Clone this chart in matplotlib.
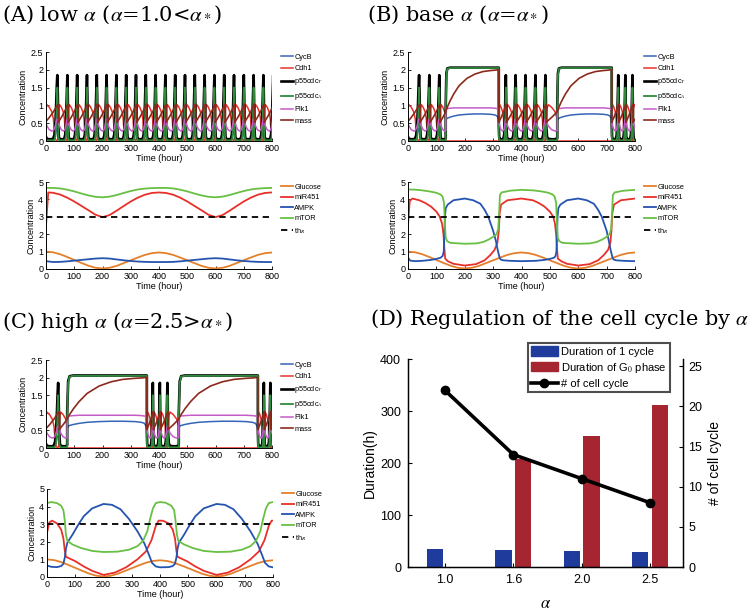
import numpy as np
import matplotlib
matplotlib.use("Agg")
import matplotlib.pyplot as plt
from matplotlib.lines import Line2D
from matplotlib.patches import Patch

plt.rcParams['font.family'] = ['Liberation Sans', 'DejaVu Sans']
plt.rcParams['mathtext.fontset'] = 'stix'

# ---------------- one cell-cycle template (phase 0 = division) ----------------
cc_phase = [0.0, 0.05, 0.12, 0.3, 0.5, 0.62, 0.7, 0.78, 0.84, 0.88, 0.92, 0.96, 1.0]
cc_cycb  = [0.12, 0.05, 0.04, 0.04, 0.05, 0.07, 0.10, 0.18, 0.28, 0.33, 0.35, 0.30, 0.12]
cc_cdh1  = [0.45, 0.92, 1.02, 0.95, 0.82, 0.62, 0.25, 0.04, 0.02, 0.02, 0.02, 0.05, 0.45]
cc_p55T  = [0.45, 0.12, 0.06, 0.05, 0.05, 0.08, 0.18, 0.55, 1.10, 1.55, 1.85, 1.30, 0.45]
cc_p55A  = [0.15, 0.03, 0.02, 0.02, 0.02, 0.02, 0.03, 0.15, 0.60, 1.10, 1.50, 0.90, 0.15]
cc_plk1  = [0.60, 0.50, 0.42, 0.32, 0.28, 0.30, 0.35, 0.45, 0.55, 0.60, 0.62, 0.62, 0.60]
cc_mass  = [0.52, 0.55, 0.58, 0.66, 0.76, 0.82, 0.87, 0.92, 0.96, 0.98, 1.00, 1.02, 1.04]

# ---------------- G0 arrest template (fraction of arrest duration) ----------------
g0_frac = [0.0, 0.012, 0.03, 0.08, 0.15, 0.25, 0.4, 0.55, 0.7, 0.85, 0.93, 0.97, 0.99, 1.0]
g0_cycb = [0.55, 0.62, 0.64, 0.67, 0.70, 0.73, 0.75, 0.76, 0.76, 0.75, 0.73, 0.70, 0.62, 0.50]
g0_cdh1 = [0.02, 0.0, 0.0, 0.0, 0.0, 0.0, 0.0, 0.0, 0.0, 0.0, 0.0, 0.0, 0.0, 0.0]
g0_p55T = [1.00, 1.90, 2.04, 2.06, 2.06, 2.06, 2.06, 2.06, 2.06, 2.06, 2.06, 2.06, 2.06, 2.06]
g0_p55A = [0.90, 1.85, 2.03, 2.05, 2.05, 2.05, 2.05, 2.05, 2.05, 2.05, 2.05, 2.05, 2.05, 2.05]
g0_plk1 = [0.85, 0.90, 0.91, 0.92, 0.93, 0.93, 0.93, 0.93, 0.93, 0.93, 0.92, 0.91, 0.89, 0.85]
g0_mass = [0.85, 0.88, 0.95, 1.12, 1.32, 1.55, 1.76, 1.88, 1.95, 1.98, 1.99, 2.00, 2.00, 2.00]

# cycles: (start, end, start phase, end phase); arrests: (start, end)
A_cycles = [(0, 43.7, 0.05, 1.0), (43.7, 78.4, 0, 1), (78.4, 113.1, 0, 1), (113.1, 147.8, 0, 1),
            (147.8, 182.5, 0, 1), (182.5, 217.2, 0, 1), (217.2, 251.9, 0, 1), (251.9, 286.6, 0, 1),
            (286.6, 321.3, 0, 1), (321.3, 356.0, 0, 1), (356.0, 390.7, 0, 1), (390.7, 425.4, 0, 1),
            (425.4, 460.1, 0, 1), (460.1, 494.8, 0, 1), (494.8, 529.5, 0, 1), (529.5, 564.2, 0, 1),
            (564.2, 598.9, 0, 1), (598.9, 633.6, 0, 1), (633.6, 668.3, 0, 1), (668.3, 703.0, 0, 1),
            (703.0, 737.7, 0, 1), (737.7, 772.4, 0, 1), (772.4, 807.1, 0, 1)]
A_arrests = []
B_cycles = [(0, 42.7, 0.05, 1.0), (42.7, 78, 0, 1), (78, 113, 0, 1), (113, 133, 0, 0.62),
            (320, 347, 0, 1), (347, 382, 0, 1), (382, 417, 0, 1), (417, 452, 0, 1), (452, 487, 0, 1),
            (487, 526, 0, 0.62),
            (718, 743, 0, 1), (743, 768, 0, 1), (768, 793, 0, 1), (793, 830, 0, 1)]
B_arrests = [(133, 320), (526, 718)]
C_cycles = [(0, 47, 0.05, 1.0), (47, 75, 0, 0.62),
            (357, 380, 0, 1), (380, 405, 0, 1), (405, 432, 0, 1), (432, 470, 0, 0.62),
            (750, 773, 0, 1), (773, 796, 0, 1), (796, 830, 0, 1)]
C_arrests = [(75, 357), (470, 750)]

# ---------------- metabolic module ----------------
glc_t = [0, 25, 50, 75, 100, 125, 150, 175, 200, 225, 250, 275, 300, 325, 350, 375, 400,
         425, 450, 475, 500, 525, 550, 575, 600, 625, 650, 675, 700, 725, 750, 775, 800]
glc_v = [1.00, 0.96, 0.85, 0.69, 0.52, 0.35, 0.19, 0.07, 0.03, 0.07, 0.18, 0.34, 0.50, 0.66, 0.81, 0.91, 0.95,
         0.91, 0.81, 0.66, 0.50, 0.34, 0.18, 0.07, 0.03, 0.07, 0.18, 0.34, 0.50, 0.66, 0.81, 0.91, 0.95]

A_mtor_t = glc_t
A_mtor_v = [4.66, 4.66, 4.63, 4.56, 4.46, 4.34, 4.23, 4.15, 4.12, 4.16, 4.25, 4.37, 4.48, 4.57, 4.62, 4.65, 4.66,
            4.66, 4.63, 4.56, 4.46, 4.34, 4.23, 4.15, 4.12, 4.16, 4.25, 4.37, 4.48, 4.57, 4.62, 4.65, 4.66]
A_mir_t = [0, 8, 25, 50, 75, 100, 125, 150, 175, 200, 225, 250, 275, 300, 325, 350, 375, 400,
           425, 450, 475, 500, 525, 550, 575, 600, 625, 650, 675, 700, 725, 750, 775, 800]
A_mir_v = [2.5, 4.4, 4.38, 4.28, 4.10, 3.88, 3.63, 3.38, 3.12, 2.98, 3.10, 3.35, 3.62, 3.88, 4.10, 4.27, 4.37, 4.40,
           4.37, 4.27, 4.10, 3.88, 3.63, 3.38, 3.12, 2.98, 3.10, 3.35, 3.62, 3.88, 4.10, 4.27, 4.37, 4.40]
A_ampk_t = glc_t
A_ampk_v = [0.45, 0.40, 0.41, 0.44, 0.48, 0.52, 0.56, 0.60, 0.62, 0.60, 0.55, 0.50, 0.46, 0.43, 0.41, 0.40, 0.40,
            0.40, 0.41, 0.44, 0.48, 0.52, 0.56, 0.60, 0.62, 0.60, 0.55, 0.50, 0.46, 0.43, 0.41, 0.40, 0.40]

B_mtor_t = [0, 25, 50, 75, 100, 115, 122, 127, 130, 133, 138, 150, 200, 240, 265, 285, 300, 312, 318, 321, 324,
            330, 360, 400, 440, 470, 495, 510, 517, 522, 525, 528, 533, 545, 600, 640, 665, 685, 700, 710,
            716, 719, 722, 728, 760, 800]
B_mtor_v = [4.57, 4.56, 4.52, 4.46, 4.38, 4.28, 4.15, 3.8, 2.6, 1.8, 1.6, 1.5, 1.45, 1.47, 1.55, 1.7, 1.85, 2.0,
            2.3, 3.2, 4.25, 4.4, 4.5, 4.55, 4.52, 4.46, 4.38, 4.28, 4.15, 3.8, 2.6, 1.8, 1.6, 1.5, 1.45, 1.47,
            1.55, 1.7, 1.85, 2.0, 2.3, 3.2, 4.25, 4.4, 4.5, 4.55]
B_mir_t = [0, 6, 15, 40, 60, 80, 100, 112, 120, 125, 128, 131, 140, 160, 200, 240, 270, 290, 305, 315, 320,
           323, 328, 350, 400, 440, 460, 480, 500, 512, 518, 522, 525, 528, 540, 560, 600, 640, 670, 690,
           705, 713, 717, 720, 726, 750, 800]
B_mir_v = [2.5, 3.9, 4.05, 3.95, 3.8, 3.6, 3.3, 3.0, 2.6, 2.0, 1.2, 0.6, 0.45, 0.3, 0.2, 0.28, 0.5, 0.8, 1.1,
           1.5, 2.2, 3.2, 3.7, 3.95, 4.05, 3.95, 3.8, 3.6, 3.3, 3.0, 2.6, 2.0, 1.2, 0.6, 0.45, 0.3, 0.2, 0.28,
           0.5, 0.8, 1.1, 1.5, 2.2, 3.2, 3.7, 3.95, 4.05]
B_ampk_t = [0, 8, 25, 50, 80, 100, 115, 122, 126, 128, 130, 133, 140, 160, 200, 230, 255, 270, 283, 300, 310,
            316, 322, 326, 335, 360, 400, 450, 480, 500, 515, 520, 523, 525, 527, 530, 537, 560, 600, 630,
            655, 670, 683, 700, 708, 714, 720, 724, 733, 760, 800]
B_ampk_v = [0.65, 0.48, 0.45, 0.47, 0.52, 0.58, 0.65, 0.75, 1.0, 1.8, 3.0, 3.5, 3.7, 3.95, 4.05, 3.95, 3.75,
            3.4, 3.0, 2.2, 1.6, 1.1, 0.7, 0.55, 0.5, 0.47, 0.45, 0.47, 0.52, 0.58, 0.65, 0.75, 1.0, 1.8, 3.0,
            3.5, 3.7, 3.95, 4.05, 3.95, 3.75, 3.4, 3.0, 2.2, 1.6, 1.1, 0.7, 0.55, 0.5, 0.47, 0.45]

C_mtor_t = [0, 15, 35, 50, 58, 63, 67, 72, 90, 120, 160, 200, 250, 290, 320, 340, 355, 365, 375, 385, 400,
            420, 440, 450, 455, 460, 465, 485, 515, 555, 600, 650, 690, 720, 740, 755, 765, 775, 785, 800]
C_mtor_v = [4.2, 4.26, 4.2, 4.05, 3.8, 3.2, 2.4, 2.05, 1.85, 1.65, 1.48, 1.42, 1.44, 1.55, 1.75, 2.05, 2.6,
            3.3, 3.9, 4.2, 4.26, 4.22, 4.05, 3.8, 3.2, 2.4, 2.05, 1.85, 1.65, 1.48, 1.42, 1.44, 1.55, 1.75,
            2.05, 2.6, 3.3, 3.9, 4.2, 4.26]
C_mir_t = [0, 8, 18, 35, 50, 58, 63, 67, 80, 100, 130, 160, 200, 240, 280, 320, 350, 370, 385, 395, 410,
           430, 445, 453, 458, 462, 475, 495, 525, 555, 600, 640, 680, 720, 750, 770, 785, 795, 800]
C_mir_v = [2.5, 3.1, 3.2, 3.05, 2.7, 2.2, 1.5, 1.15, 1.05, 0.9, 0.6, 0.35, 0.12, 0.25, 0.55, 1.0, 1.45, 2.1,
           2.9, 3.2, 3.2, 3.05, 2.7, 2.2, 1.5, 1.15, 1.05, 0.9, 0.6, 0.35, 0.12, 0.25, 0.55, 1.0, 1.45, 2.1,
           2.9, 3.2, 3.2]
C_ampk_t = [0, 15, 35, 50, 58, 63, 67, 72, 90, 110, 130, 160, 200, 230, 260, 290, 320, 345, 360, 372, 385,
            400, 430, 445, 453, 458, 462, 467, 485, 505, 525, 555, 600, 630, 660, 690, 720, 745, 760, 772,
            785, 800]
C_ampk_v = [0.65, 0.58, 0.56, 0.62, 0.75, 1.1, 1.6, 1.95, 2.4, 2.95, 3.45, 3.9, 4.15, 4.1, 3.85, 3.3, 2.6,
            1.9, 1.3, 0.8, 0.6, 0.55, 0.56, 0.62, 0.75, 1.1, 1.6, 1.95, 2.4, 2.95, 3.45, 3.9, 4.15, 4.1, 3.85,
            3.3, 2.6, 1.9, 1.3, 0.8, 0.6, 0.55]
th_R = 3.0

# ---------------- panel D ----------------
alpha_labels = ['1.0', '1.6', '2.0', '2.5']
dur_cycle = [35, 32, 31, 29]
dur_g0 = [0, 208, 251, 312]
n_cycles = [22, 14, 11, 8]

# ---------------- styles ----------------
cc_names = ['CycB', 'Cdh1', r'p55cdc$_T$', r'p55cdc$_A$', 'Plk1', 'mass']
cc_colors = ['#3565b8', '#e8302a', '#000000', '#2f8a3c', '#c55bc8', '#8b2a1c']
cc_lws = [1.1, 1.1, 1.9, 1.3, 1.1, 1.2]
cc_tmpl = [cc_cycb, cc_cdh1, cc_p55T, cc_p55A, cc_plk1, cc_mass]
g0_tmpl = [g0_cycb, g0_cdh1, g0_p55T, g0_p55A, g0_plk1, g0_mass]

met_names = ['Glucose', 'miR451', 'AMPK', 'mTOR']
met_colors = ['#e57f2a', '#e8302a', '#2553b0', '#68c043']


def build(cycles, arrests, cvals, gvals):
    segs = [(c[0], 'c', c) for c in cycles] + [(g[0], 'g', g) for g in arrests]
    segs.sort(key=lambda s: s[0])
    ts, vs = [], []
    for _, kind, s in segs:
        if kind == 'c':
            t0, t1, p0, p1 = s
            for p, v in zip(cc_phase, cvals):
                if p0 - 1e-9 <= p <= p1 + 1e-9:
                    ts.append(t0 + (p - p0) / (p1 - p0) * (t1 - t0))
                    vs.append(v)
        else:
            t0, t1 = s
            for f, v in zip(g0_frac, gvals):
                ts.append(t0 + f * (t1 - t0))
                vs.append(v)
    return ts, vs


W, H = 750, 611
fig = plt.figure(figsize=(7.5, 6.11), dpi=100)


def pax(l, t, r, b):
    return fig.add_axes([l / W, 1 - b / H, (r - l) / W, (b - t) / H])


def style_small(ax, ymax, yticks, ylabels):
    ax.set_xlim(0, 800)
    ax.set_ylim(0, ymax)
    ax.set_xticks(range(0, 801, 100))
    ax.set_yticks(yticks)
    ax.set_yticklabels(ylabels)
    ax.tick_params(direction='in', length=2.5, width=0.6, labelsize=6.5, pad=2)
    for s in ['top', 'right']:
        ax.spines[s].set_visible(False)
    for s in ['left', 'bottom']:
        ax.spines[s].set_linewidth(0.7)
    ax.set_xlabel('Time (hour)', fontsize=6.5, labelpad=1)
    ax.set_ylabel('Concentration', fontsize=6.5, labelpad=2)


def cycle_panel(ax, cycles, arrests):
    for tmpl, gt, name, col, lw in zip(cc_tmpl, g0_tmpl, cc_names, cc_colors, cc_lws):
        t, v = build(cycles, arrests, tmpl, gt)
        ax.plot(t, v, color=col, lw=lw, label=name)
    style_small(ax, 2.5, [0, 0.5, 1, 1.5, 2, 2.5], ['0', '0.5', '1', '1.5', '2', '2.5'])
    ax.legend(loc='upper left', bbox_to_anchor=(1.04, 0.98), frameon=False, fontsize=5.3,
              handlelength=1.6, handletextpad=0.2, labelspacing=0.55, borderpad=0, borderaxespad=0)


def met_panel(ax, series):
    for (t, v), name, col in zip(series, met_names, met_colors):
        ax.plot(t, v, color=col, lw=1.3, label=name)
    ax.axhline(th_R, color='k', lw=1.3, ls=(0, (3.5, 2.5)), label=r'th$_R$')
    style_small(ax, 5, [0, 1, 2, 3, 4, 5], ['0', '1', '2', '3', '4', '5'])
    ax.legend(loc='upper left', bbox_to_anchor=(1.04, 0.98), frameon=False, fontsize=5.3,
              handlelength=1.6, handletextpad=0.2, labelspacing=0.45, borderpad=0, borderaxespad=0)


axA1 = pax(46, 52, 272, 141)
axA2 = pax(46, 182, 272, 269)
axB1 = pax(408, 52, 635, 141)
axB2 = pax(408, 182, 635, 269)
axC1 = pax(46, 360, 272, 448)
axC2 = pax(47, 489, 273, 577)

cycle_panel(axA1, A_cycles, A_arrests)
cycle_panel(axB1, B_cycles, B_arrests)
cycle_panel(axC1, C_cycles, C_arrests)
met_panel(axA2, [(glc_t, glc_v), (A_mir_t, A_mir_v), (A_ampk_t, A_ampk_v), (A_mtor_t, A_mtor_v)])
met_panel(axB2, [(glc_t, glc_v), (B_mir_t, B_mir_v), (B_ampk_t, B_ampk_v), (B_mtor_t, B_mtor_v)])
met_panel(axC2, [(glc_t, glc_v), (C_mir_t, C_mir_v), (C_ampk_t, C_ampk_v), (C_mtor_t, C_mtor_v)])

# ---------------- panel D ----------------
axD = pax(408, 359, 683, 567)
x = np.arange(1, len(alpha_labels) + 1)
axD.bar(x - 0.145, dur_cycle, width=0.24, color='#1f3c9c')
axD.bar(x + 0.145, dur_g0, width=0.24, color='#a52530')
axD.set_xlim(0.46, 4.48)
axD.set_ylim(0, 400)
axD.set_xticks(x)
axD.set_xticklabels(alpha_labels)
axD.set_yticks([0, 100, 200, 300, 400])
axD.tick_params(direction='in', length=3, width=0.8, labelsize=9, pad=5)
axD.spines['top'].set_visible(False)
for s in ['left', 'bottom', 'right']:
    axD.spines[s].set_linewidth(1.0)
axD.set_ylabel('Duration(h)', fontsize=10, labelpad=2)
axD.set_xlabel(r'$\alpha$', fontsize=12, labelpad=7)
ax2 = axD.twinx()
ax2.plot(x, n_cycles, color='k', lw=2.6, marker='o', ms=6)
ax2.set_ylim(0, 25.9)
ax2.set_yticks([0, 5, 10, 15, 20, 25])
ax2.tick_params(direction='in', length=3, width=0.8, labelsize=9, pad=4)
ax2.spines['top'].set_visible(False)
ax2.set_ylabel('# of cell cycle', fontsize=10, labelpad=4)

handles = [Patch(color='#1f3c9c'), Patch(color='#a52530'),
           Line2D([], [], color='k', lw=2.6, marker='o', ms=6)]
labels = ['Duration of 1 cycle', r'Duration of G$_0$ phase', '# of cell cycle']
leg = fig.legend(handles, labels, loc='upper right', bbox_to_anchor=(670 / W, 1 - 343 / H),
                 bbox_transform=fig.transFigure, fontsize=8, frameon=True, fancybox=False,
                 edgecolor='#222222', handlelength=2.4, handleheight=0.9, handletextpad=0.3,
                 labelspacing=0.35, borderpad=0.3, borderaxespad=0)
leg.get_frame().set_linewidth(1.5)

# ---------------- titles ----------------
tkw = dict(fontsize=15, family='DejaVu Serif', va='center', ha='left')
fig.text(2 / W, 1 - 15 / H, r'(A) low $\alpha$ ($\alpha$=1.0<$\alpha_*$)', **tkw)
fig.text(367 / W, 1 - 15 / H, r'(B) base $\alpha$ ($\alpha$=$\alpha_*$)', **tkw)
fig.text(2 / W, 1 - 322 / H, r'(C) high $\alpha$ ($\alpha$=2.5>$\alpha_*$)', **tkw)
fig.text(370 / W, 1 - 319 / H, r'(D) Regulation of the cell cycle by $\alpha$', **tkw)

fig.savefig('out.png', dpi=100)
